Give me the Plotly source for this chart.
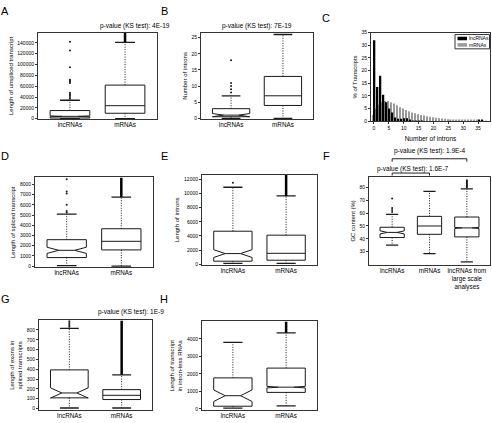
import plotly.graph_objects as go

W, H = 492, 423
FONT = "Liberation Sans, Arial, sans-serif"

# ------------------------------------------------------------------ data
box_cats = ["lncRNAs", "mRNAs"]
f_cats = ["lncRNAs", "mRNAs", "lncRNAs from<br>large scale<br>analyses"]

# A: length of unspliced transcript
a_q1 = [1200, 10000]
a_med = [4300, 24000]
a_q3 = [15000, 62000]
a_low = [0, 0]
a_high = [34000, 141000]
a_notch = [900, 0]
a_out = [[37000, 40000, 43000, 45000, 48000, 66000, 68000, 70000, 72000, 95000, 126000, 142000], []]
a_dense = [None, [141000, 159000]]
a_yticks = [0, 20000, 40000, 60000, 80000, 100000, 120000, 140000]
a_title = "p-value (KS test): 4E-19"

# B: number of introns
b_q1 = [0.5, 4]
b_med = [1, 7]
b_q3 = [3, 13]
b_low = [0, 0]
b_high = [7, 26]
b_notch = [0.5, 0]
b_out = [[8, 9, 10, 11, 18], []]
b_dense = [None, None]
b_yticks = [0, 5, 10, 15, 20, 25]
b_title = "p-value (KS test): 7E-19"

# C: histogram of number of introns (% of transcripts)
c_introns = list(range(0, 39))
c_lnc = [32, 13.5, 18, 10.5, 7.5, 5, 3.5, 1.5, 1, 1, 1.2, 1.2, 0.3, 0.2, 0.2, 0.1, 0.1, 0, 0, 0,
         0, 0, 0, 0, 0, 0, 0, 0, 0, 0, 0, 0, 0, 0, 0, 0.5, 0.3, 0, 0]
c_mrna = [2.5, 5, 6.5, 7.5, 8, 8, 7.5, 7, 6.3, 5.5, 5, 4.5, 4, 3.5, 3.2, 2.8, 2.5, 2.3, 2, 1.8,
          1.6, 1.4, 1.2, 1.1, 1, 0.8, 0.7, 0.6, 0.6, 0.5, 0.5, 0.4, 0.4, 0.3, 0.3, 0.3, 0.2, 0.2, 0.2]
c_xticks = [0, 5, 10, 15, 20, 25, 30, 35]
c_yticks = [0, 5, 10, 15, 20, 25, 30, 35]

# D: length of spliced transcript
d_q1 = [840, 1590]
d_med = [1550, 2430]
d_q3 = [2590, 3660]
d_low = [50, 0]
d_high = [5080, 6760]
d_notch = [300, 0]
d_out = [[5250, 5400, 6000, 7100, 7300, 8500], []]
d_dense = [None, [6760, 8660]]
d_yticks = [0, 1000, 2000, 3000, 4000, 5000, 6000, 7000, 8000]

# E: length of introns
e_q1 = [420, 560]
e_med = [1500, 1540]
e_q3 = [4670, 4110]
e_low = [100, 100]
e_high = [10900, 9670]
e_notch = [550, 0]
e_out = [[11550], []]
e_dense = [None, [9670, 12700]]
e_yticks = [0, 2000, 4000, 6000, 8000, 10000, 12000]

# F: GC content (%)
f_q1 = [41, 43.5, 41.5]
f_med = [45, 50, 48.5]
f_q3 = [49, 57.5, 57]
f_low = [35, 28.5, 22]
f_high = [59, 77, 79]
f_notch = [1.2, 0, 0.4]
f_out = [[61, 62.5, 64, 71.5], [], [80, 80.8, 81.6, 82.4, 83.2, 84, 84.8, 85.6]]
f_dense = [None, None, None]
f_yticks = [30, 40, 50, 60, 70, 80]
f_test_top = "p-value (KS test): 1.9E-4"
f_test_low = "p-value (KS test): 1.6E-7"

# G: length of exons in spliced transcripts
g_q1 = [108, 91]
g_med = [158, 134]
g_q3 = [393, 192]
g_low = [5, 5]
g_high = [817, 343]
g_notch = [52, 0]
g_out = [[832, 848, 864, 880, 895], []]
g_dense = [None, [343, 897]]
g_yticks = [0, 100, 200, 300, 400, 500, 600, 700, 800]
g_title = "p-value (KS test): 1E-9"

# H: length of transcript in intron-less RNAs
h_q1 = [150, 940]
h_med = [750, 1240]
h_q3 = [1770, 2330]
h_low = [40, 170]
h_high = [3800, 4350]
h_notch = [330, 45]
h_out = [[], []]
h_dense = [None, [4350, 5000]]
h_yticks = [0, 1000, 2000, 3000, 4000]

# ------------------------------------------------------------------ helpers
def dx(l, r):
    return [l / W, r / W]


def dy(t, b):
    return [1 - b / H, 1 - t / H]


def px_x(p):
    return p / W


def px_y(p):
    return 1 - p / H


fig = go.Figure()
LC = "#1a1a1a"
TC = "#000000"


def add_box_panel(idx, q1, med, q3, low, high, notch, outs, dense, bw=0.72):
    xa = "x" if idx == 1 else "x%d" % idx
    ya = "y" if idx == 1 else "y%d" % idx
    cap = bw / 4.0
    wx, wy, cx, cy, ox, oy, tx, ty = [], [], [], [], [], [], [], []
    for i in range(len(q1)):
        pos = i + 1
        kw = {}
        if notch[i] > 0:
            kw = dict(notched=True, notchspan=[notch[i]], notchwidth=0.3)
        fig.add_trace(go.Box(
            x=[pos], q1=[q1[i]], median=[med[i]], q3=[q3[i]],
            lowerfence=[q1[i]], upperfence=[q3[i]], width=bw,
            line=dict(color=LC, width=1), fillcolor="white",
            boxpoints=False, whiskerwidth=0, xaxis=xa, yaxis=ya,
            showlegend=False, hoverinfo="skip", **kw))
        wx += [pos, pos, None, pos, pos, None]
        wy += [q3[i], high[i], None, q1[i], low[i], None]
        cx += [pos - cap, pos + cap, None, pos - cap, pos + cap, None]
        cy += [high[i], high[i], None, low[i], low[i], None]
        ox += [pos] * len(outs[i])
        oy += list(outs[i])
        if dense[i] is not None:
            tx += [pos, pos, None]
            ty += [dense[i][0], dense[i][1], None]
    fig.add_trace(go.Scatter(x=wx, y=wy, mode="lines", xaxis=xa, yaxis=ya,
                             line=dict(color=LC, width=1, dash="1px,1.5px"),
                             showlegend=False, hoverinfo="skip"))
    fig.add_trace(go.Scatter(x=cx, y=cy, mode="lines", xaxis=xa, yaxis=ya,
                             line=dict(color=LC, width=1.3),
                             showlegend=False, hoverinfo="skip"))
    if ox:
        fig.add_trace(go.Scatter(x=ox, y=oy, mode="markers", xaxis=xa, yaxis=ya,
                                 marker=dict(color=LC, size=2),
                                 showlegend=False, hoverinfo="skip"))
    if tx:
        fig.add_trace(go.Scatter(x=tx, y=ty, mode="lines", xaxis=xa, yaxis=ya,
                                 line=dict(color="black", width=2.5),
                                 showlegend=False, hoverinfo="skip"))


add_box_panel(1, a_q1, a_med, a_q3, a_low, a_high, a_notch, a_out, a_dense)
add_box_panel(2, b_q1, b_med, b_q3, b_low, b_high, b_notch, b_out, b_dense)
add_box_panel(4, d_q1, d_med, d_q3, d_low, d_high, d_notch, d_out, d_dense)
add_box_panel(5, e_q1, e_med, e_q3, e_low, e_high, e_notch, e_out, e_dense)
add_box_panel(6, f_q1, f_med, f_q3, f_low, f_high, f_notch, f_out, f_dense, bw=0.65)
add_box_panel(7, g_q1, g_med, g_q3, g_low, g_high, g_notch, g_out, g_dense)
add_box_panel(8, h_q1, h_med, h_q3, h_low, h_high, h_notch, h_out, h_dense)

# C bars
fig.add_trace(go.Bar(x=c_introns, y=c_mrna, name="mRNAs", marker=dict(color="#9a9a9a", line=dict(width=0)),
                     xaxis="x3", yaxis="y3", offsetgroup="m", showlegend=False, hoverinfo="skip"))
fig.add_trace(go.Bar(x=c_introns, y=c_lnc, name="lncRNAs", marker=dict(color="black", line=dict(width=0)),
                     xaxis="x3", yaxis="y3", offsetgroup="l", showlegend=False, hoverinfo="skip"))

# ------------------------------------------------------------------ axes
frame = dict(showline=True, mirror=True, linecolor="#333333", linewidth=1,
             showgrid=False, zeroline=False)
tickf = dict(family=FONT, size=5, color=TC)
catf = dict(family=FONT, size=6.3, color=TC)
titf = dict(family=FONT, size=6, color=TC)


def cat_axis(dom, n, cats):
    lo = 0.5 - 0.04 * n
    return dict(domain=dom, range=[lo, n + 1 - lo], tickmode="array",
                tickvals=list(range(1, n + 1)), ticktext=cats, ticks="",
                tickfont=catf, ticklabelstandoff=-1, **frame)


def val_axis(dom, rng, ticks, title, anchor):
    return dict(domain=dom, range=rng, tickmode="array", tickvals=ticks,
                ticktext=[str(t) for t in ticks], ticks="outside", ticklen=2,
                tickwidth=1, tickcolor="#333", tickfont=tickf,
                title=dict(text=title, font=titf, standoff=3), anchor=anchor, **frame)


layout = dict(width=W, height=H, margin=dict(l=0, r=0, t=0, b=0),
              paper_bgcolor="white", plot_bgcolor="white",
              font=dict(family=FONT, color=TC),
              barmode="group", bargap=0.1, bargroupgap=0.0, showlegend=False)

# panel frames (pixel boxes)
A = (38, 157, 30, 118)
B = (201, 313, 30, 118)
C = (371, 490, 30, 120)
D = (35, 153, 177, 268)
E = (202, 317, 174, 266)
F = (369, 490, 176, 266)
G = (39, 152, 322, 413)
Hh = (202, 317, 323, 413)

layout["xaxis"] = cat_axis(dx(A[0], A[1]), 2, box_cats) | dict(anchor="y")
layout["yaxis"] = val_axis(dy(A[2], A[3]), [-1200, 159000], a_yticks, "Length of unspliced transcript", "x")
layout["xaxis2"] = cat_axis(dx(B[0], B[1]), 2, box_cats) | dict(anchor="y2")
layout["yaxis2"] = val_axis(dy(B[2], B[3]), [-0.3, 26.6], b_yticks, "Number of introns", "x2")
layout["xaxis3"] = dict(domain=dx(C[0], C[1]), range=[-1, 39], tickmode="array", tickvals=c_xticks,
                        ticktext=[str(t) for t in c_xticks], ticks="outside", ticklen=2, tickcolor="#333",
                        tickfont=tickf, anchor="y3",
                        title=dict(text="Number of introns", font=dict(family=FONT, size=6.5, color=TC), standoff=6),
                        **frame)
layout["yaxis3"] = val_axis(dy(C[2], C[3]), [0, 35], c_yticks, "% of Transcripts", "x3")
layout["xaxis4"] = cat_axis(dx(D[0], D[1]), 2, box_cats) | dict(anchor="y4")
layout["yaxis4"] = val_axis(dy(D[2], D[3]), [-100, 8670], d_yticks, "Length of spliced transcript", "x4")
layout["xaxis5"] = cat_axis(dx(E[0], E[1]), 2, box_cats) | dict(anchor="y5")
layout["yaxis5"] = val_axis(dy(E[2], E[3]), [-150, 12700], e_yticks, "Length of introns", "x5")
layout["xaxis6"] = cat_axis(dx(F[0], F[1]), 3, f_cats) | dict(anchor="y6")
layout["yaxis6"] = val_axis(dy(F[2], F[3]), [19.4, 88.6], f_yticks, "GC content (%)", "x6")
layout["xaxis7"] = cat_axis(dx(G[0], G[1]), 2, box_cats) | dict(anchor="y7")
layout["yaxis7"] = val_axis(dy(G[2], G[3]), [-17, 897], g_yticks, "Length of exons in<br>spliced transcripts", "x7")
layout["xaxis8"] = cat_axis(dx(Hh[0], Hh[1]), 2, box_cats) | dict(anchor="y8")
layout["yaxis8"] = val_axis(dy(Hh[2], Hh[3]), [-75, 5000], h_yticks, "Length of transcript<br>in intron-less RNAs", "x8")

fig.update_layout(**layout)

# ------------------------------------------------------------------ annotations
ann = []
for letter, (x, y) in zip("ABCDEFGH", [(5, 8), (164, 8), (326, 15), (5, 155), (164, 155), (326, 155), (5, 300), (164, 300)]):
    ann.append(dict(text=letter, x=px_x(x), y=px_y(y), xref="paper", yref="paper", showarrow=False,
                    xanchor="center", yanchor="middle", font=dict(family=FONT, size=11, color=TC)))

pf = dict(family=FONT, size=6.5, color=TC)
ann.append(dict(text=a_title, x=px_x((A[0] + A[1]) / 2), y=px_y(23), xref="paper", yref="paper",
                showarrow=False, yanchor="middle", font=pf))
ann.append(dict(text=b_title, x=px_x((B[0] + B[1]) / 2), y=px_y(23), xref="paper", yref="paper",
                showarrow=False, yanchor="middle", font=pf))
ann.append(dict(text=g_title, x=px_x((G[0] + G[1]) / 2), y=px_y(313), xref="paper", yref="paper",
                showarrow=False, yanchor="middle", font=pf))
ann.append(dict(text=f_test_top, x=2, y=px_y(150), xref="x6", yref="paper",
                showarrow=False, yanchor="middle", font=pf))
ann.append(dict(text=f_test_low, x=1.55, y=px_y(168), xref="x6", yref="paper",
                showarrow=False, yanchor="middle", font=pf))

# C legend (manual)
lf = dict(family=FONT, size=5, color=TC)
ann.append(dict(text="lncRNAs", x=px_x(468), y=px_y(36), xref="paper", yref="paper", showarrow=False,
                xanchor="left", yanchor="middle", font=lf, borderpad=0))
ann.append(dict(text="mRNAs", x=px_x(468), y=px_y(42.5), xref="paper", yref="paper", showarrow=False,
                xanchor="left", yanchor="middle", font=lf, borderpad=0))

shapes = []
# brackets in F
for (x0, x1, yt, ye) in [(1, 3, 158, 161), (1, 2, 172.5, 175)]:
    shapes.append(dict(type="line", xref="x6", yref="paper", x0=x0, x1=x1, y0=px_y(yt), y1=px_y(yt),
                       line=dict(color="#222", width=1)))
    for xx in (x0, x1):
        shapes.append(dict(type="line", xref="x6", yref="paper", x0=xx, x1=xx, y0=px_y(yt), y1=px_y(ye),
                           line=dict(color="#222", width=1)))
# legend box and swatches
shapes.append(dict(type="rect", xref="paper", yref="paper", x0=px_x(455), x1=px_x(489.5),
                   y0=px_y(46.5), y1=px_y(32), line=dict(color="#333", width=1), fillcolor="white", layer="above"))
shapes.append(dict(type="rect", xref="paper", yref="paper", x0=px_x(457.5), x1=px_x(467),
                   y0=px_y(37.8), y1=px_y(34.2), line=dict(width=0), fillcolor="black", layer="above"))
shapes.append(dict(type="rect", xref="paper", yref="paper", x0=px_x(457.5), x1=px_x(467),
                   y0=px_y(44.3), y1=px_y(40.7), line=dict(width=0), fillcolor="#9a9a9a", layer="above"))

fig.update_layout(annotations=ann, shapes=shapes)
fig.write_html("out.html", config={"displayModeBar": False},
               post_script="document.body.style.margin='0px';document.body.style.padding='0px';"
                           "document.documentElement.style.overflow='hidden';")
